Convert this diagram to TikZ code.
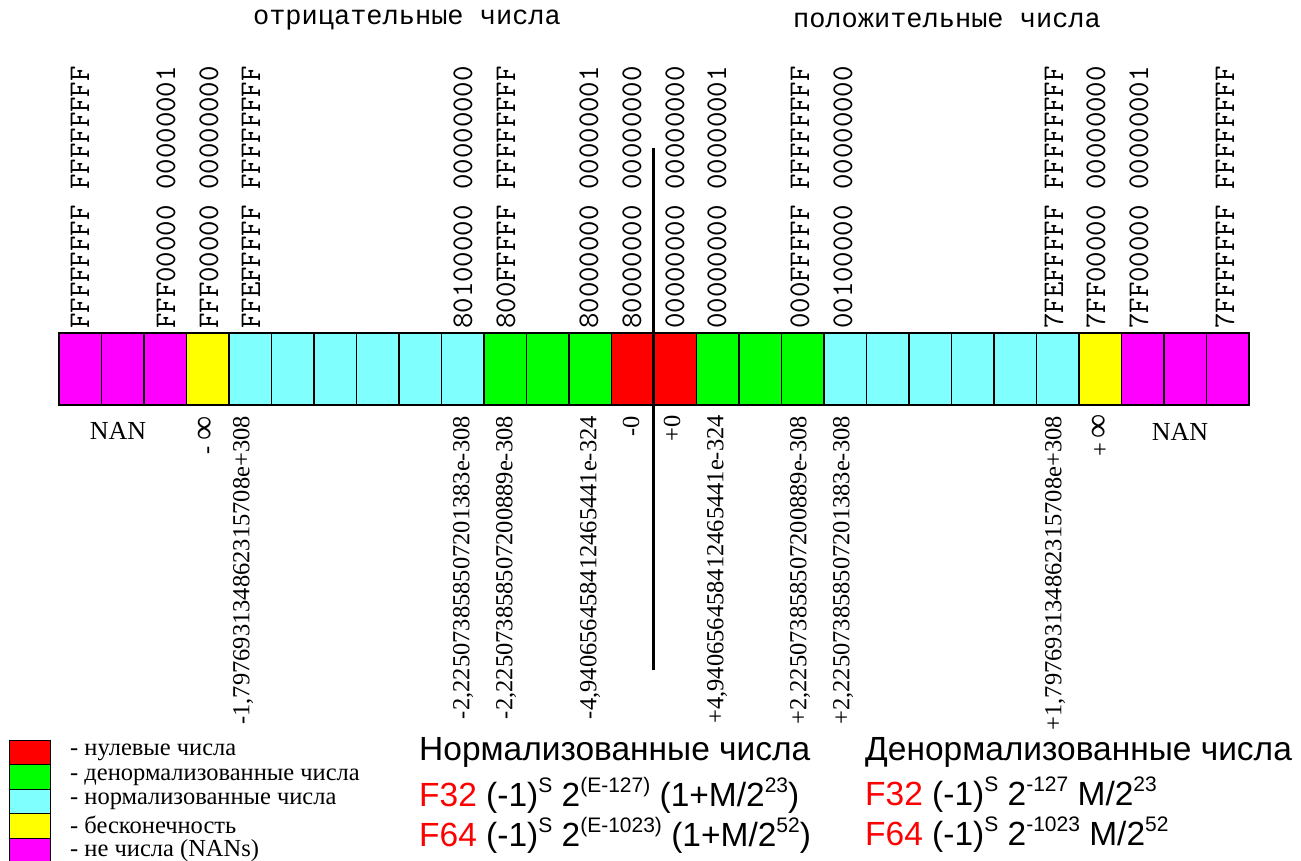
\documentclass[tikz,border=0pt]{standalone}
\usepackage{fontspec}
\setmainfont{Liberation Serif}
\newfontfamily\monof{Liberation Mono}
\newfontfamily\sansf{Liberation Sans}
\definecolor{nanc}{HTML}{FF00FF}
\definecolor{infc}{HTML}{FFFF00}
\definecolor{normc}{HTML}{80FFFF}
\definecolor{denc}{HTML}{00FF00}
\definecolor{zeroc}{HTML}{FF0000}
\newcommand\sps[1]{\raisebox{0.42em}{\fontsize{21}{21}\selectfont #1}}
\newcommand\infsym{{\fontsize{34}{34}\selectfont ∞}}
\begin{document}
\begin{tikzpicture}[x=1pt,y=-1pt,
  cell/.style={draw, line width=1.3pt, minimum width=42.5pt, minimum height=72pt, inner sep=0pt, outer sep=0pt},
  hex/.style={font=\fontsize{30}{30}\selectfont\ttfamily, inner sep=0pt, rotate=90, anchor=west},
  val/.style={font=\fontsize{24.5}{24.5}\selectfont, inner sep=0pt, rotate=90, anchor=east},
  title/.style={font=\fontsize{27}{27}\selectfont\monof, inner sep=0pt},
  nanlab/.style={font=\fontsize{26}{26}\selectfont, inner sep=0pt},
  leg/.style={draw, line width=1.2pt, minimum width=41pt, minimum height=24.5pt, inner sep=0pt, outer sep=0pt},
  legtxt/.style={font=\fontsize{24.5}{24.5}\selectfont, inner sep=0pt, anchor=west},
  formula/.style={font=\fontsize{33.5}{33.5}\selectfont\sansf, inner sep=0pt, anchor=west}
]
\useasboundingbox (0,0) rectangle (1301,861);

% titles
\node[title] (tneg) at (407,20) {отрицательные числа};
\node[title] (tpos) at (947,20) {положительные числа};

% bar cells
\foreach \c [count=\i from 0] in {nanc,nanc,nanc,infc,normc,normc,normc,normc,normc,normc,denc,denc,denc,zeroc,zeroc,denc,denc,denc,normc,normc,normc,normc,normc,normc,infc,nanc,nanc,nanc}
  \node[cell, fill=\c] (c\i) at ({59+42.5*(\i+0.5)},369) {};
\draw[line width=2pt] (c0.north west) rectangle (c27.south east);

% hex labels (top)
\node[hex] (h1)  at (80,329)   {FFFFFFFF FFFFFFFF};
\node[hex] (h2)  at (166,329)  {FFF00000 00000001};
\node[hex] (h3)  at (209,329)  {FFF00000 00000000};
\node[hex] (h4)  at (251,329)  {FFEFFFFF FFFFFFFF};
\node[hex] (h5)  at (463,329)  {80100000 00000000};
\node[hex] (h6)  at (506,329)  {800FFFFF FFFFFFFF};
\node[hex] (h7)  at (589,329)  {80000000 00000001};
\node[hex] (h8)  at (632,329)  {80000000 00000000};
\node[hex] (h9)  at (675,329)  {00000000 00000000};
\node[hex] (h10) at (717,329)  {00000000 00000001};
\node[hex] (h11) at (800,329)  {000FFFFF FFFFFFFF};
\node[hex] (h12) at (843,329)  {00100000 00000000};
\node[hex] (h13) at (1054,329) {7FEFFFFF FFFFFFFF};
\node[hex] (h14) at (1096,329) {7FF00000 00000000};
\node[hex] (h15) at (1139,329) {7FF00000 00000001};
\node[hex] (h16) at (1225,329) {7FFFFFFF FFFFFFFF};

% value labels (bottom)
\node[nanlab] (nan1) at (118,431) {NAN};
\node[nanlab] (nan2) at (1180,432) {NAN};
\node[val] (v1)  at (206,416) {- \infsym};
\node[val] (v2)  at (243,416) {-1,797693134862315708e+308};
\node[val] (v3)  at (463,416) {-2,225073858507201383e-308};
\node[val] (v4)  at (506,416) {-2,225073858507200889e-308};
\node[val] (v5)  at (590,416) {-4,940656458412465441e-324};
\node[val] (v6)  at (631,416) {-0};
\node[val] (v7)  at (672,415) {+0};
\node[val] (v8)  at (717,415) {+4,940656458412465441e-324};
\node[val] (v9)  at (800,416) {+2,225073858507200889e-308};
\node[val] (v10) at (843,416) {+2,225073858507201383e-308};
\node[val] (v11) at (1055,416) {+1,797693134862315708e+308};
\node[val] (v12) at (1100,414) {+\,\infsym};

% central axis
\coordinate (axt) at (653,148);
\coordinate (axb) at (653,670);
\draw[line width=3pt] (axt) -- (axb);

% legend
\node[leg, fill=zeroc]  (l1) at (30,752.5) {};
\node[leg, fill=denc]   (l2) at (30,777) {};
\node[leg, fill=normc]  (l3) at (30,801.5) {};
\node[leg, fill=infc]   (l4) at (30,826) {};
\node[leg, fill=nanc]   (l5) at (30,850.5) {};
\node[legtxt] (lt1) at (70,752) {- нулевые числа};
\node[legtxt] (lt2) at (70,777) {- денормализованные числа};
\node[legtxt] (lt3) at (70,801) {- нормализованные числа};
\node[legtxt] (lt4) at (70,825) {- бесконечность};
\node[legtxt] (lt5) at (70,851) {- не числа (NANs)};

% formulas
\node[formula] (n0) at (419,752) {Нормализованные числа};
\node[formula] (n1) at (419,795) {\textcolor{red}{F32} (-1)\sps{S} 2\sps{(E-127)} (1+M/2\sps{23})};
\node[formula] (n2) at (419,835) {\textcolor{red}{F64} (-1)\sps{S} 2\sps{(E-1023)} (1+M/2\sps{52})};
\node[formula] (d0) at (865,752) {Денормализованные числа};
\node[formula] (d1) at (865,795) {\textcolor{red}{F32} (-1)\sps{S} 2\sps{-127} M/2\sps{23}};
\node[formula] (d2) at (865,835) {\textcolor{red}{F64} (-1)\sps{S} 2\sps{-1023} M/2\sps{52}};
\end{tikzpicture}
\end{document}
